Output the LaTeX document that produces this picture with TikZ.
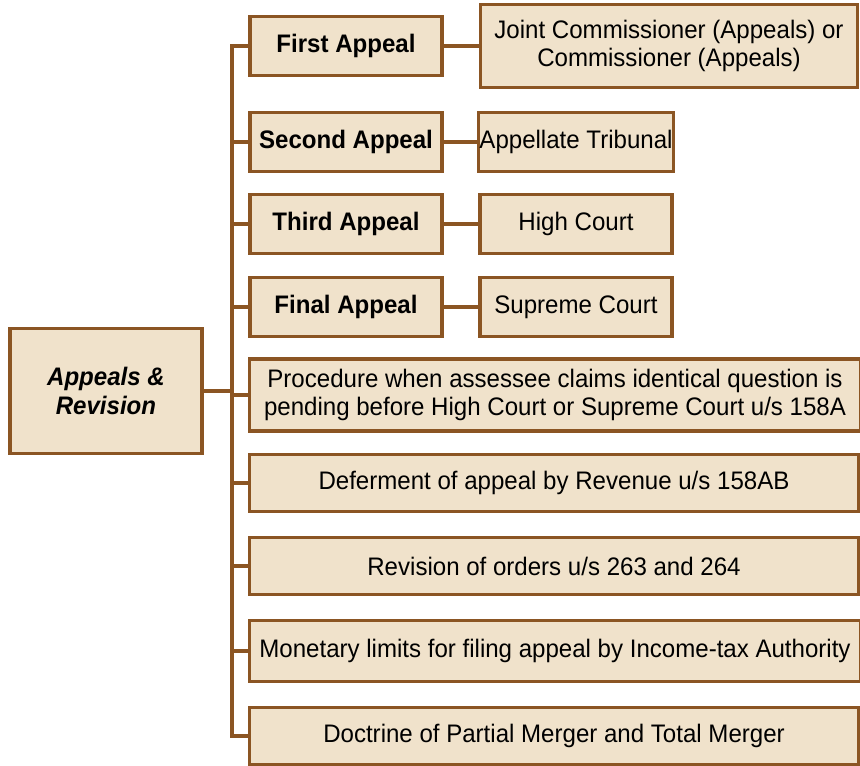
\documentclass[tikz,border=0pt]{standalone}
\usepackage{fontspec}
\setmainfont{Liberation Sans}[FakeStretch=0.95]
\definecolor{boxfill}{HTML}{F0E2CB}
\definecolor{boxline}{HTML}{8B5523}
\begin{document}
\begin{tikzpicture}[x=0.75pt, y=-0.75pt,
  box/.style={draw=boxline, fill=boxfill, line width=2.3pt, inner sep=1pt,
    align=center, font=\fontsize{19}{21}\selectfont},
  headbox/.style={box, minimum width=144pt, minimum height=44pt,
    font=\fontsize{19}{21}\selectfont\bfseries},
  smallbox/.style={box, minimum width=144pt, minimum height=44pt},
  widebox/.style={box, minimum width=457pt, minimum height=43pt},
  link/.style={draw=boxline, line width=2.5pt}]
\useasboundingbox (0,0) rectangle (860,765);
% main heading
\node[box, minimum width=144pt, minimum height=94pt,
  font=\fontsize{19}{21.5}\selectfont\bfseries\itshape] (root) at (106,391) {Appeals \&\\Revision};
% appeals and forums
\node[headbox] (first) at (346,46) {First Appeal};
\node[box, minimum width=283pt, minimum height=62pt] (joint) at (669,46) {Joint Commissioner (Appeals) or\\Commissioner (Appeals)};
\node[headbox] (second) at (346,142) {Second Appeal};
\node[smallbox] (tribunal) at (576,142) {Appellate Tribunal};
\node[headbox] (third) at (346,224) {Third Appeal};
\node[smallbox] (high) at (576,224) {High Court};
\node[headbox] (final) at (346,307) {Final Appeal};
\node[smallbox] (supreme) at (576,307) {Supreme Court};
% other topics
\node[box, minimum width=458pt, minimum height=54pt] (proc) at (555,395) {Procedure when assessee claims identical question is\\pending before High Court or Supreme Court u/s 158A};
\node[widebox] (defer) at (554,483) {Deferment of appeal by Revenue u/s 158AB};
\node[widebox] (revis) at (554,566) {Revision of orders u/s 263 and 264};
\node[box, minimum width=458pt, minimum height=46pt] (money) at (555,651) {Monetary limits for filing appeal by Income-tax Authority};
\node[widebox] (doctrine) at (554,736) {Doctrine of Partial Merger and Total Merger};
% connectors
\coordinate (tt) at (232,46);
\coordinate (tb) at (232,736);
\draw[link] (first.west) -- (tt) -- (tb) -- (doctrine.west);
\foreach \n in {second,third,final,proc,defer,revis,money}
{
    \draw[link] (\n.west) -- (\n.west -| tt);
}
\draw[link] (root.east) -- (root.east -| tt);
\draw[link] (first.east) -- (joint.west);
\draw[link] (second.east) -- (tribunal.west);
\draw[link] (third.east) -- (high.west);
\draw[link] (final.east) -- (supreme.west);
\end{tikzpicture}
\end{document}
